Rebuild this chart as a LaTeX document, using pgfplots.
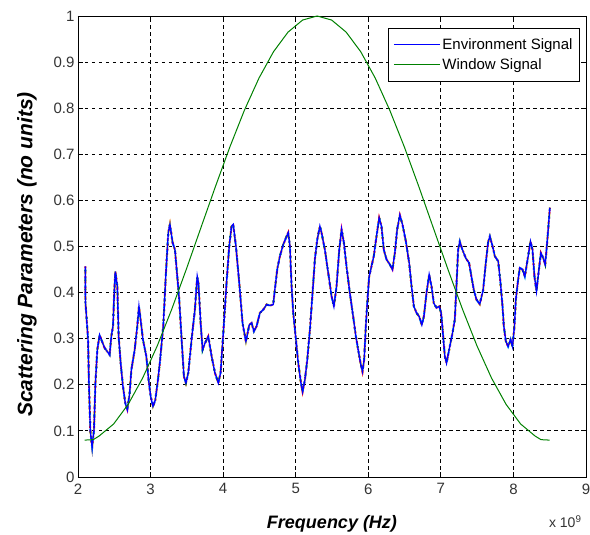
\documentclass[border=0pt]{standalone}
\usepackage{fontspec}
\setmainfont{Liberation Sans}
\usepackage{pgfplots}
\pgfplotsset{compat=1.18}
\usepackage{pgfplotstable}

\pgfplotstableread{
x y
2.101 0.457
2.103 0.378
2.138 0.300
2.152 0.196
2.170 0.100
2.184 0.080
2.195 0.065
2.207 0.085
2.220 0.100
2.239 0.200
2.266 0.276
2.298 0.308
2.321 0.298
2.367 0.280
2.436 0.265
2.459 0.305
2.482 0.327
2.496 0.385
2.514 0.446
2.542 0.414
2.560 0.305
2.588 0.247
2.620 0.196
2.652 0.160
2.680 0.146
2.712 0.182
2.735 0.232
2.781 0.276
2.817 0.327
2.840 0.370
2.863 0.341
2.895 0.298
2.941 0.262
2.973 0.211
3.001 0.175
3.033 0.153
3.065 0.167
3.102 0.211
3.129 0.250
3.175 0.327
3.212 0.443
3.244 0.530
3.267 0.548
3.304 0.508
3.336 0.493
3.368 0.435
3.395 0.385
3.428 0.298
3.460 0.218
3.487 0.204
3.520 0.226
3.565 0.298
3.611 0.363
3.643 0.435
3.660 0.420
3.690 0.334
3.717 0.276
3.749 0.290
3.795 0.305
3.841 0.262
3.887 0.226
3.933 0.204
3.965 0.226
4.002 0.312
4.047 0.421
4.084 0.501
4.116 0.544
4.139 0.548
4.176 0.501
4.222 0.421
4.268 0.333
4.314 0.294
4.360 0.330
4.392 0.334
4.424 0.316
4.461 0.327
4.507 0.356
4.553 0.363
4.599 0.374
4.645 0.372
4.690 0.374
4.713 0.407
4.745 0.450
4.782 0.479
4.828 0.504
4.874 0.522
4.897 0.530
4.920 0.501
4.943 0.414
4.966 0.356
5.003 0.298
5.035 0.247
5.072 0.204
5.095 0.185
5.127 0.211
5.159 0.254
5.196 0.320
5.232 0.399
5.264 0.472
5.297 0.515
5.333 0.544
5.356 0.530
5.402 0.493
5.448 0.443
5.494 0.392
5.526 0.370
5.563 0.414
5.600 0.493
5.632 0.537
5.664 0.508
5.700 0.457
5.746 0.399
5.792 0.348
5.829 0.305
5.861 0.276
5.893 0.247
5.920 0.229
5.943 0.254
5.966 0.327
5.989 0.385
6.012 0.435
6.044 0.457
6.076 0.479
6.113 0.522
6.150 0.562
6.182 0.544
6.214 0.493
6.251 0.472
6.297 0.461
6.333 0.450
6.366 0.486
6.398 0.537
6.435 0.568
6.471 0.548
6.517 0.512
6.564 0.464
6.596 0.414
6.628 0.370
6.665 0.356
6.701 0.348
6.738 0.330
6.766 0.348
6.802 0.399
6.839 0.439
6.871 0.414
6.903 0.377
6.940 0.367
6.977 0.370
7.004 0.356
7.032 0.305
7.055 0.262
7.078 0.247
7.114 0.276
7.160 0.312
7.192 0.341
7.215 0.414
7.238 0.493
7.261 0.511
7.297 0.493
7.343 0.475
7.389 0.464
7.421 0.435
7.453 0.407
7.490 0.385
7.536 0.375
7.582 0.405
7.620 0.465
7.652 0.510
7.675 0.522
7.712 0.501
7.744 0.479
7.790 0.468
7.822 0.421
7.850 0.370
7.868 0.327
7.895 0.295
7.927 0.283
7.960 0.298
7.987 0.283
8.014 0.327
8.033 0.385
8.065 0.428
8.088 0.454
8.125 0.450
8.157 0.435
8.203 0.479
8.235 0.511
8.263 0.493
8.290 0.435
8.318 0.403
8.346 0.443
8.378 0.486
8.410 0.475
8.438 0.461
8.456 0.493
8.479 0.537
8.502 0.584
}\envdata

\pgfplotstableread{
x y
2.090 0.0800
2.210 0.0810
2.290 0.0888
2.491 0.1150
2.691 0.1575
2.891 0.2147
3.092 0.2844
3.292 0.3640
3.492 0.4503
3.692 0.5400
3.893 0.6297
4.093 0.7160
4.293 0.7956
4.494 0.8653
4.694 0.9225
4.894 0.9650
5.095 0.9912
5.295 1.0000
5.495 0.9912
5.695 0.9650
5.896 0.9225
6.096 0.8653
6.296 0.7956
6.497 0.7160
6.697 0.6297
6.897 0.5400
7.098 0.4503
7.298 0.3640
7.498 0.2844
7.698 0.2147
7.899 0.1575
8.099 0.1150
8.299 0.0888
8.380 0.0810
8.500 0.0800
}\windata

\definecolor{mblue}{RGB}{0,0,255}
\definecolor{mgreen}{RGB}{0,128,0}

\begin{document}
\begin{tikzpicture}
\begin{axis}[
  scale only axis,
  width=508pt, height=461pt,
  xmin=2, xmax=9, ymin=0, ymax=1,
  xtick={2,3,4,5,6,7,8,9},
  ytick={0,0.1,0.2,0.3,0.4,0.5,0.6,0.7,0.8,0.9,1},
  yticklabels={0,0.1,0.2,0.3,0.4,0.5,0.6,0.7,0.8,0.9,1},
  xticklabels={2,3,4,5,6,7,8,9},
  tick align=inside, tick pos=both,
  major tick length=5pt,
  tick style={black, line width=0.8pt},
  axis line style={black, line width=0.9pt},
  grid=major,
  major grid style={black, line width=0.9pt, dash pattern=on 3.5pt off 3.5pt},
  ticklabel style={font=\fontsize{15}{18}\selectfont, text=black!80},
  xticklabel style={yshift=-3pt},
  /pgf/number format/assume math mode=true,
  xlabel={Frequency (Hz)},
  ylabel={Scattering Parameters (no units)},
  xlabel style={font=\fontsize{18}{22}\selectfont\bfseries\itshape, yshift=-14pt},
  ylabel style={font=\fontsize{21}{25}\selectfont\bfseries\itshape, yshift=10pt, xshift=-8pt},
  legend style={at={(0.988,0.974)}, anchor=north east, draw=black, line width=0.8pt,
    font=\fontsize{15}{18}\selectfont, inner xsep=5pt, inner ysep=6pt,
    nodes={inner ysep=4pt}, cells={anchor=west}},
  legend cell align=left,
  legend image code/.code={\draw[#1, line width=1pt] (0pt,0pt) -- (46pt,0pt);},
  clip=true,
]
\addplot[red, line width=2.0pt, dash pattern=on 2pt off 3pt, forget plot] table[x=x,y=y] {\envdata};
\addplot[yellow!90!black, line width=2.0pt, dash pattern=on 2pt off 6pt, dash phase=2pt, forget plot] table[x=x,y=y] {\envdata};
\addplot[cyan, line width=2.0pt, dash pattern=on 2pt off 6pt, dash phase=5pt, forget plot] table[x=x,y=y] {\envdata};
\addplot[mgreen, line width=1.9pt, dash pattern=on 1.5pt off 8pt, dash phase=6pt, forget plot] table[x=x,y=y] {\envdata};
\addplot[magenta, line width=1.9pt, dash pattern=on 1pt off 10pt, dash phase=1pt, forget plot] table[x=x,y=y] {\envdata};
\addplot[mblue, line width=1.4pt] table[x=x,y=y] {\envdata};
\addlegendentry{Environment Signal}
\addplot[mgreen, line width=1pt] table[x=x,y=y] {\windata};
\addlegendentry{Window Signal}
\end{axis}
\node[anchor=base east, font=\fontsize{14}{17}\selectfont, text=black!80] at (507pt,-51pt) {x 10$^{\mathrm{9}}$};
\pgfresetboundingbox
\path[use as bounding box] (-78pt,-58pt) rectangle (512pt,477pt);
\end{tikzpicture}
\end{document}
